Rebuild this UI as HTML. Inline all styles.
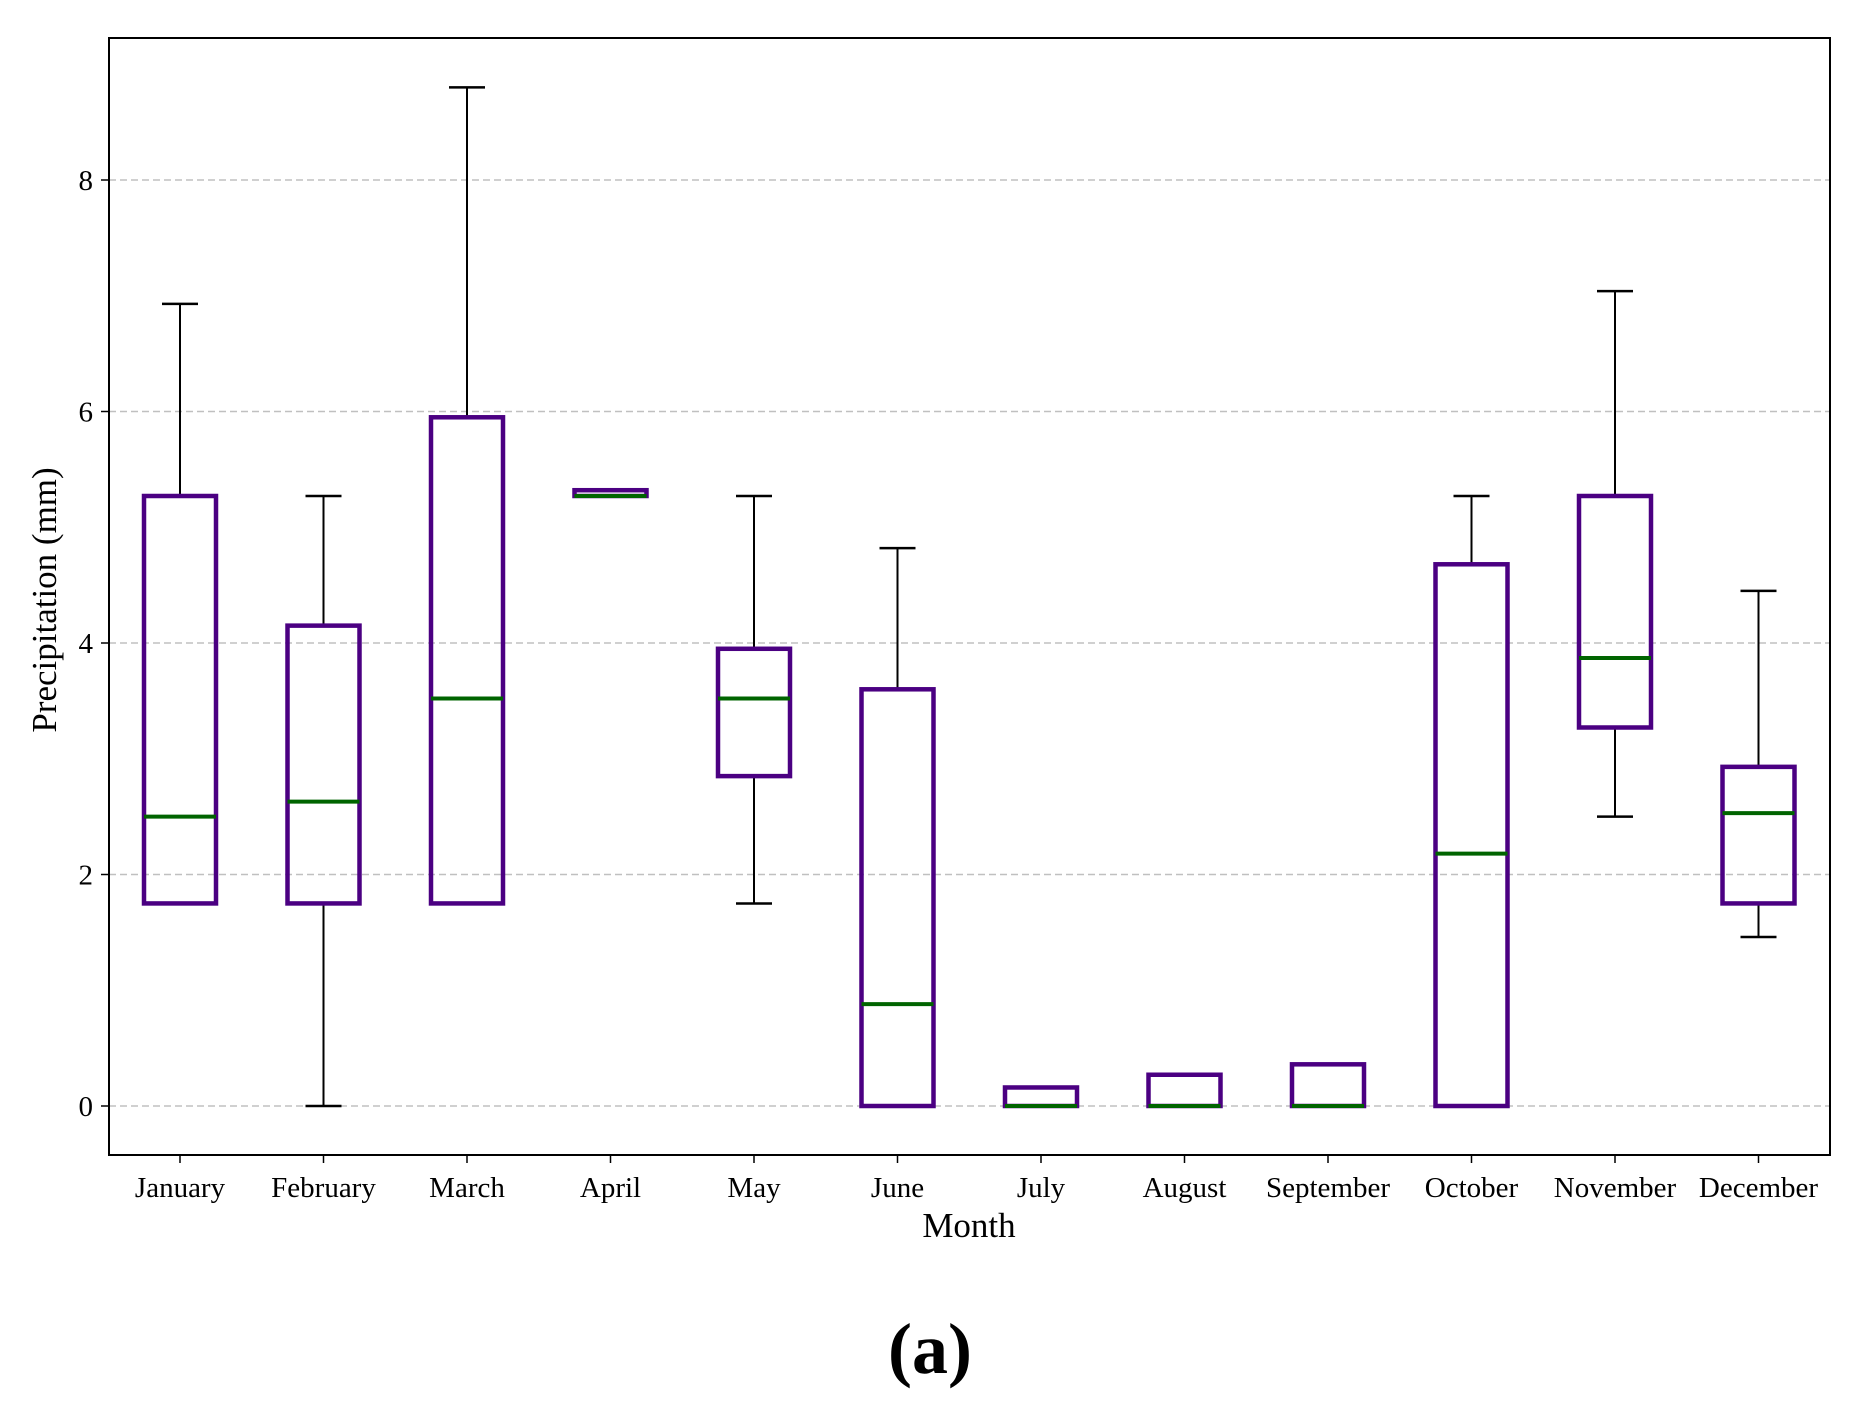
<!DOCTYPE html>
<html><head><meta charset="utf-8"><style>
html,body{margin:0;padding:0;background:#fff;}
svg{display:block;font-family:"Liberation Serif",serif;}
</style></head><body>
<svg id="chart" width="1870" height="1405" viewBox="0 0 1870 1405"></svg>
<script>
const months=["January","February","March","April","May","June","July","August","September","October","November","December"];
const whiskLo=[1.75,0,1.75,5.27,1.75,0,0,0,0,0,2.5,1.46];
const q1=[1.75,1.75,1.75,5.27,2.85,0,0,0,0,0,3.27,1.75];
const medians=[2.5,2.63,3.52,5.27,3.52,0.88,0,0,0,2.18,3.87,2.53];
const q3=[5.27,4.15,5.95,5.32,3.95,3.6,0.16,0.27,0.36,4.68,5.27,2.93];
const whiskHi=[6.93,5.27,8.8,5.32,5.27,4.82,0.16,0.27,0.36,5.27,7.04,4.45];
const yTicks=[0,2,4,6,8];

const NS="http://www.w3.org/2000/svg";
const svg=document.getElementById('chart');
const L=109,R=1830,T=38,B=1155;
function y(v){return 1106-v*115.75;}
function x(i){return 180+i*143.5;}
function mk(tag,attrs,parent){const e=document.createElementNS(NS,tag);for(const k in attrs)e.setAttribute(k,attrs[k]);(parent||svg).appendChild(e);return e;}

yTicks.forEach(t=>{
  const g=mk('line',{x1:L,x2:R,y1:y(t),y2:y(t),stroke:'#c0c0c0','stroke-width':1.5,'stroke-dasharray':'7,4'});
  
  
  const tk=mk('line',{x1:L-8,x2:L,y1:y(t),y2:y(t),stroke:'#000','stroke-width':1.5});
  
  
  const tx=mk('text',{x:L-16,y:y(t)+10,'text-anchor':'end','font-size':29});
  tx.textContent=t;
  
  
});

const bw=72,cw=36;
months.forEach((m,i)=>{
  const cx=x(i);
  const g=mk('g',{});
  
  
  mk('line',{x1:cx,x2:cx,y1:y(q3[i]),y2:y(whiskHi[i]),stroke:'#000','stroke-width':2},g);
  mk('line',{x1:cx,x2:cx,y1:y(q1[i]),y2:y(whiskLo[i]),stroke:'#000','stroke-width':2},g);
  mk('line',{x1:cx-cw/2,x2:cx+cw/2,y1:y(whiskHi[i]),y2:y(whiskHi[i]),stroke:'#000','stroke-width':2.5},g);
  mk('line',{x1:cx-cw/2,x2:cx+cw/2,y1:y(whiskLo[i]),y2:y(whiskLo[i]),stroke:'#000','stroke-width':2.5},g);
  mk('rect',{x:cx-bw/2,y:y(q3[i]),width:bw,height:Math.max(0.1,y(q1[i])-y(q3[i])),fill:'none',stroke:'#4b0082','stroke-width':4.5},g);
  mk('line',{x1:cx-bw/2,x2:cx+bw/2,y1:y(medians[i]),y2:y(medians[i]),stroke:'#006400','stroke-width':4},g);
  const tk=mk('line',{x1:cx,x2:cx,y1:B,y2:B+8,stroke:'#000','stroke-width':1.5});
  
  
  const tx=mk('text',{x:cx,y:B+42,'text-anchor':'middle','font-size':29});
  tx.textContent=m;
  
  
});

const frame=mk('rect',{x:L,y:T,width:R-L,height:B-T,fill:'none',stroke:'#000','stroke-width':2});



const xt=mk('text',{x:969,y:1237,'text-anchor':'middle','font-size':35});
xt.textContent='Month';



const yt=mk('text',{x:0,y:0,'text-anchor':'middle','font-size':35,transform:'translate(56,600) rotate(-90)'});
yt.textContent='Precipitation (mm)';



const cap=mk('text',{x:930,y:1373,'text-anchor':'middle','font-size':72,'font-weight':'bold'});
cap.textContent='(a)';


</script>
</body></html>
